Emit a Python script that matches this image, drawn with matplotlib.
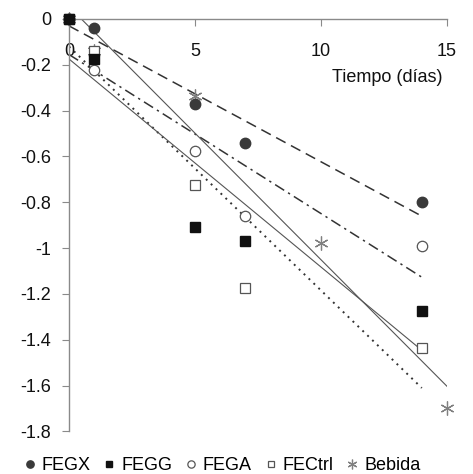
import numpy as np
import matplotlib
matplotlib.use("Agg")
import matplotlib.pyplot as plt

plt.rcParams["font.family"] = ["Liberation Sans", "DejaVu Sans"]
plt.rcParams["axes.unicode_minus"] = False

# Días de muestreo y ln(N/N0) por serie
days_fe = [0, 1, 5, 7, 14]
fegx = [0, -0.04, -0.37, -0.543, -0.80]
fegg = [0, -0.176, -0.908, -0.968, -1.274]
fega = [0, -0.221, -0.578, -0.862, -0.99]
fectrl = [0, -0.141, -0.723, -1.175, -1.437]

days_bebida = [0, 1, 5, 10, 15]
bebida = [0, -0.14, -0.338, -0.978, -1.70]

x_ticks = [0, 5, 10, 15]
y_ticks = [0, -0.2, -0.4, -0.6, -0.8, -1, -1.2, -1.4, -1.6, -1.8]


def trend(ax, x, y, **kw):
    m, b = np.polyfit(x, y, 1)
    xs = np.array([min(x), max(x)])
    ax.plot(xs, m * xs + b, **kw)


def main():
    fig = plt.figure(figsize=(4.73, 4.74), dpi=100)
    ax = fig.add_axes([0.146, 0.09, 0.799, 0.87])

    line_col = "#333333"
    trend(ax, days_fe, fegx, color=line_col, lw=1.1, ls=(0, (7, 4)))
    trend(ax, days_fe, fega, color=line_col, lw=1.1, ls=(0, (7, 3, 1.5, 3)))
    trend(ax, days_fe, fectrl, color=line_col, lw=1.4, ls=(0, (1, 2.5)))
    trend(ax, days_fe, fegg, color="#555555", lw=0.8)
    trend(ax, days_bebida, bebida, color="#555555", lw=0.8)

    mk = dict(ls="none", clip_on=False)
    ax.plot(days_bebida, bebida, marker=(6, 2, 0), ms=10, mec="#808080",
            mew=0.9, label="Bebida", zorder=3, **mk)
    ax.plot(days_fe, fectrl, marker="s", ms=7, mfc="white", mec="#555555",
            mew=0.9, label="FECtrl", zorder=4, **mk)
    ax.plot(days_fe, fega, marker="o", ms=7.5, mfc="white", mec="#555555",
            mew=0.9, label="FEGA", zorder=4, **mk)
    ax.plot(days_fe, fegx, marker="o", ms=7.5, mfc="#3a3a3a", mec="#3a3a3a",
            label="FEGX", zorder=5, **mk)
    ax.plot(days_fe, fegg, marker="s", ms=7, mfc="#111111", mec="#111111",
            label="FEGG", zorder=6, **mk)

    ax.set_xlim(0, 15)
    ax.set_ylim(-1.8, 0)
    ax.set_xticks(x_ticks)
    ax.set_yticks(y_ticks)
    ax.set_xticklabels([str(v) for v in x_ticks])
    ax.set_yticklabels(["{:g}".format(v) for v in y_ticks])

    for s in ["top", "right"]:
        ax.spines[s].set_visible(False)
    ax.spines["bottom"].set_position(("data", 0))
    for s in ["bottom", "left"]:
        ax.spines[s].set_color("#8a8a8a")
        ax.spines[s].set_linewidth(1.0)
    ax.tick_params(axis="x", direction="out", length=5, color="#8a8a8a",
                   labelsize=13, pad=12, labelcolor="#111111")
    ax.tick_params(axis="y", direction="out", length=5, color="#8a8a8a",
                   labelsize=13, pad=8, labelcolor="#111111")

    ax.text(12.64, -0.256, "Tiempo (días)", ha="center", va="center",
            fontsize=13, color="#111111")

    handles, labels = ax.get_legend_handles_labels()
    order = ["FEGX", "FEGG", "FEGA", "FECtrl", "Bebida"]
    hl = dict(zip(labels, handles))
    fig.legend([hl[k] for k in order], order, loc="center",
               bbox_to_anchor=(0.47, 0.018), ncol=5, frameon=False,
               fontsize=13, handlelength=0.6, handletextpad=0.35,
               columnspacing=0.75, markerscale=0.7)

    fig.savefig("out.png", dpi=100, facecolor="white")


if __name__ == "__main__":
    main()
